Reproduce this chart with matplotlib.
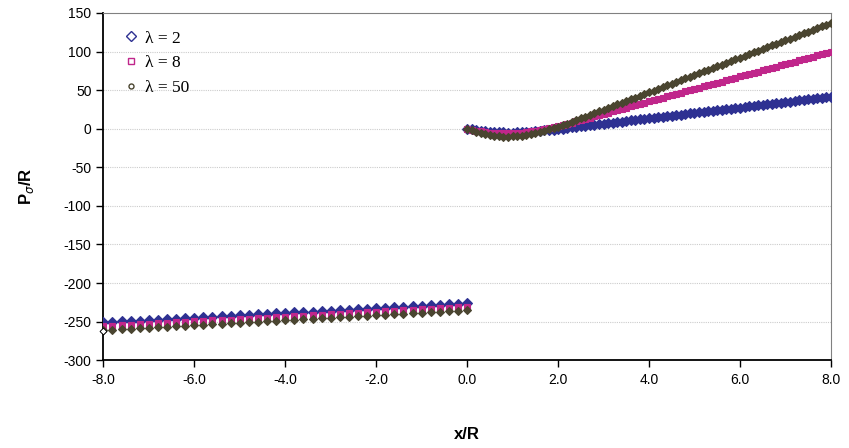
import numpy as np
import matplotlib
matplotlib.use("Agg")
import matplotlib.pyplot as plt
from matplotlib.lines import Line2D

plt.rcParams["font.family"] = ["Liberation Sans", "DejaVu Sans"]
plt.rcParams["axes.unicode_minus"] = False

# x/R positions: coarse on the negative side, fine on the positive side
x_neg = np.round(np.arange(-8.0, 0.01, 0.2), 1)
x_pos = np.round(np.arange(0.0, 8.01, 0.1), 1)

lam_labels = ["λ = 2", "λ = 8", "λ = 50"]

p2_neg = [-251.0, -250.4, -249.8, -249.2, -248.6, -247.9, -247.3, -246.7, -246.1, -245.5,
          -244.9, -244.3, -243.7, -243.0, -242.4, -241.8, -241.2, -240.6, -240.0, -239.4,
          -238.8, -238.1, -237.5, -236.9, -236.3, -235.7, -235.1, -234.5, -233.8, -233.2,
          -232.6, -232.0, -231.4, -230.8, -230.2, -229.6, -228.9, -228.3, -227.7, -227.1,
          -226.5]
p8_neg = [-256.0, -255.4, -254.8, -254.1, -253.5, -252.9, -252.3, -251.6, -251.0, -250.4,
          -249.8, -249.1, -248.5, -247.9, -247.3, -246.6, -246.0, -245.4, -244.8, -244.1,
          -243.5, -242.9, -242.3, -241.6, -241.0, -240.4, -239.8, -239.1, -238.5, -237.9,
          -237.3, -236.6, -236.0, -235.4, -234.8, -234.1, -233.5, -232.9, -232.3, -231.6,
          -231.0]
p50_neg = [-261.0, -260.4, -259.7, -259.1, -258.5, -257.8, -257.2, -256.5, -255.9, -255.3,
           -254.6, -254.0, -253.4, -252.7, -252.1, -251.5, -250.8, -250.2, -249.6, -248.9,
           -248.3, -247.6, -247.0, -246.4, -245.7, -245.1, -244.5, -243.8, -243.2, -242.6,
           -241.9, -241.3, -240.7, -240.0, -239.4, -238.8, -238.1, -237.5, -236.8, -236.2,
           -235.5]

p2_pos = [0.0, -1.0, -2.0, -2.8, -3.4, -3.9, -4.3, -4.6, -4.8, -4.9,
          -4.9, -4.8, -4.6, -4.3, -3.9, -3.4, -2.9, -2.3, -1.7, -1.1,
          -0.5, 0.2, 0.9, 1.6, 2.3, 3.0, 3.7, 4.4, 5.1, 5.8,
          6.5, 7.2, 7.9, 8.6, 9.3, 10.0, 10.7, 11.4, 12.1, 12.8,
          13.5, 14.2, 14.9, 15.6, 16.3, 17.0, 17.7, 18.4, 19.1, 19.8,
          20.5, 21.2, 21.9, 22.6, 23.3, 24.0, 24.7, 25.4, 26.1, 26.8,
          27.5, 28.2, 28.9, 29.6, 30.3, 31.0, 31.7, 32.4, 33.1, 33.8,
          34.5, 35.2, 35.9, 36.6, 37.3, 38.0, 38.7, 39.4, 40.1, 40.8,
          41.5]
p8_pos = [0.0, -1.2, -2.4, -3.4, -4.2, -4.9, -5.4, -5.8, -6.0, -6.0,
          -5.8, -5.4, -4.9, -4.2, -3.4, -2.5, -1.5, -0.4, 0.7, 1.9,
          3.1, 4.7, 6.3, 7.9, 9.6, 11.2, 12.8, 14.4, 16.0, 17.6,
          19.2, 20.9, 22.5, 24.1, 25.7, 27.3, 28.9, 30.5, 32.2, 33.8,
          35.4, 37.0, 38.6, 40.2, 41.8, 43.5, 45.1, 46.7, 48.3, 49.9,
          51.5, 53.1, 54.8, 56.4, 58.0, 59.6, 61.2, 62.8, 64.4, 66.1,
          67.7, 69.3, 70.9, 72.5, 74.1, 75.7, 77.4, 79.0, 80.6, 82.2,
          83.8, 85.4, 87.0, 88.7, 90.3, 91.9, 93.5, 95.1, 96.7, 98.3,
          100.0]
p50_pos = [0.0, -2.0, -3.9, -5.6, -7.0, -8.2, -9.1, -9.7, -10.1, -10.2,
           -10.0, -9.5, -8.8, -7.9, -6.8, -5.5, -4.1, -2.6, -1.0, 0.6,
           2.2, 4.4, 6.7, 8.9, 11.2, 13.4, 15.7, 17.9, 20.2, 22.4,
           24.7, 26.9, 29.2, 31.4, 33.7, 35.9, 38.2, 40.4, 42.7, 44.9,
           47.2, 49.4, 51.7, 53.9, 56.2, 58.4, 60.7, 62.9, 65.2, 67.4,
           69.7, 71.9, 74.2, 76.4, 78.7, 80.9, 83.2, 85.4, 87.7, 89.9,
           92.2, 94.4, 96.7, 98.9, 101.2, 103.4, 105.7, 107.9, 110.2, 112.4,
           114.7, 116.9, 119.2, 121.4, 123.7, 125.9, 128.2, 130.4, 132.7, 134.9,
           137.2]

# stray open point sitting at the left edge
x_edge = [-8.0]
p_edge = [-262.5]

colors = ["#2e3192", "#c0268b", "#4a4530"]
markers = ["D", "s", "D"]
msizes = [5.0, 4.0, 4.0]

fig = plt.figure(figsize=(8.49, 4.48), dpi=100)
ax = fig.add_axes([0.1217, 0.196, 0.857, 0.775])

series = [(p2_neg, p2_pos), (p8_neg, p8_pos), (p50_neg, p50_pos)]
for (yn, yp), c, m, s in zip(series, colors, markers, msizes):
    ax.plot(x_neg, yn, ls="none", marker=m, ms=s, mfc=c, mec=c, mew=0.8, zorder=3)
    ax.plot(x_pos, yp, ls="none", marker=m, ms=s, mfc=c, mec=c, mew=0.8, zorder=3)
ax.plot(x_edge, p_edge, ls="none", marker="D", ms=3.5, mfc="white", mec="black",
        mew=0.7, zorder=4, clip_on=False)

ax.set_xlim(-8, 8)
ax.set_ylim(-300, 150)
ax.set_xticks(np.arange(-8, 8.1, 2))
ax.set_xticklabels([f"{v:.1f}" for v in np.arange(-8, 8.1, 2)])
ax.set_yticks(np.arange(-300, 151, 50))

for y in np.arange(-250, 150, 50):
    ax.axhline(y, color="#cccccc", lw=0.8, ls=(0, (1, 1)), zorder=1)

for side in ["left", "bottom"]:
    ax.spines[side].set_color("black")
    ax.spines[side].set_linewidth(1.3)
for side in ["top", "right"]:
    ax.spines[side].set_color("#808080")
    ax.spines[side].set_linewidth(0.8)

ax.tick_params(axis="both", direction="out", length=5, width=1, labelsize=10)
ax.tick_params(axis="x", pad=4)

ax.set_xlabel("x/R", fontsize=12, fontweight="bold", labelpad=29)
ax.set_ylabel(r"P$_{\sigma}$/R", fontsize=12, fontweight="bold", labelpad=20)

handles = [Line2D([], [], ls="none", marker=m, ms=s, mfc="white", mec=c, mew=1.0)
           for c, m, s in zip(colors, ["D", "s", "o"], [4.6, 4.4, 3.6])]
ax.legend(handles, lam_labels, loc="upper left", bbox_to_anchor=(0.01, 0.995), frameon=False,
          prop={"family": "Liberation Serif", "size": 12.5}, handlelength=0.6,
          handletextpad=0.5, labelspacing=0.5)

fig.savefig("out.png", dpi=100)
